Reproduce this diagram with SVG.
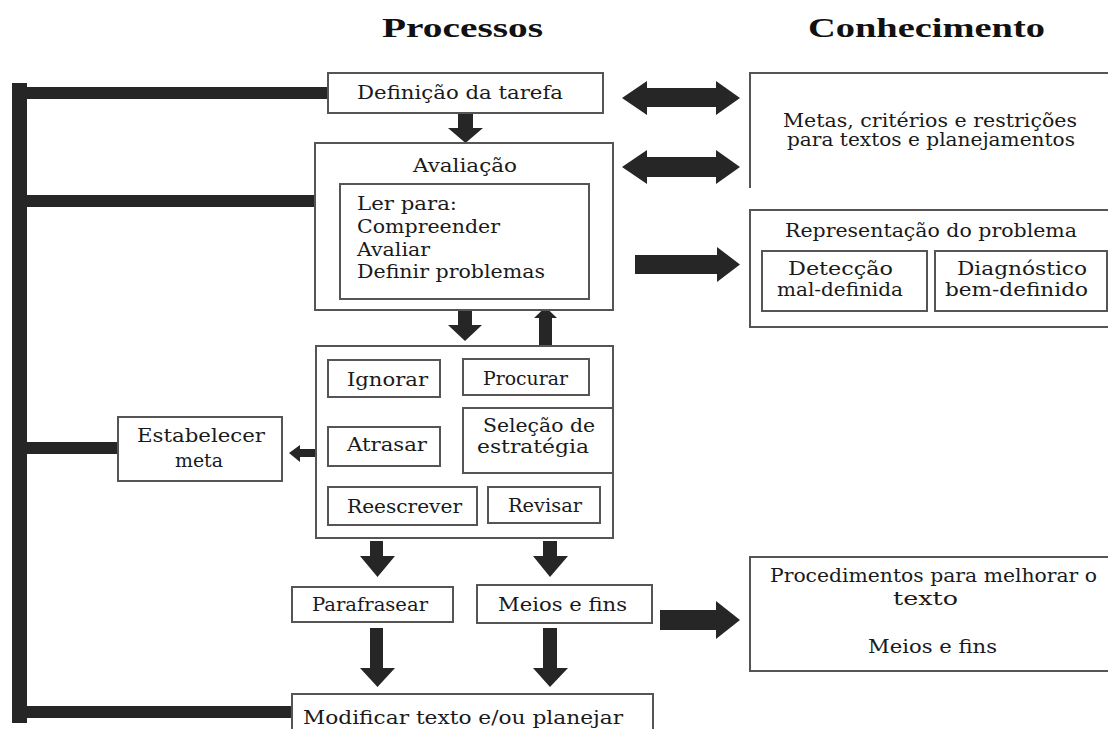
<svg xmlns="http://www.w3.org/2000/svg" width="1108" height="729" viewBox="0 0 1108 729">
<style>
.b{fill:#fff;stroke:#555;stroke-width:2}
.ln{fill:none;stroke:#555;stroke-width:2}
.t{font-family:"DejaVu Serif","Liberation Serif",serif;font-size:18px;fill:#1a1a1a}
.h{font-family:"Liberation Serif","Times New Roman",serif;font-size:28px;font-weight:bold;fill:#111}
.a{fill:#262626}
</style>
<rect width="1108" height="729" fill="#fff"/>
<g id="headings">
<text class="h" x="382" y="37" textLength="161" lengthAdjust="spacingAndGlyphs">Processos</text>
<text class="h" x="808" y="37" textLength="237" lengthAdjust="spacingAndGlyphs">Conhecimento</text>
</g>
<g id="connectors">
<rect class="a" x="12" y="83" width="15" height="640"/>
<rect class="a" x="27" y="87" width="301" height="12"/>
<rect class="a" x="27" y="195" width="288" height="12"/>
<rect class="a" x="27" y="442" width="91" height="12"/>
<rect class="a" x="27" y="706" width="265" height="12"/>
<polygon class="a" points="458,113 473,113 473,128 483,128 465.5,143 448,128 458,128"/>
<polygon class="a" points="458,310 472,310 472,325 482,325 465,341 448,325 458,325"/>
<polygon class="a" points="539,359 552,359 552,318 557,318 545.5,307 534,318 539,318"/>
<polygon class="a" points="370,541 383,541 383,556 395,556 377.5,577 360,556 370,556"/>
<polygon class="a" points="543,541 557,541 557,556 568,556 550,577 533,556 543,556"/>
<polygon class="a" points="370,628 383,628 383,668 395,668 377.5,687 360,668 370,668"/>
<polygon class="a" points="543,628 557,628 557,668 568,668 550,687 533,668 543,668"/>
<polygon class="a" points="328,449 300,449 300,445 289,453 300,462 300,457 328,457"/>
<polygon class="a" points="622,98 647,81 647,88 716,88 716,81 740,98 716,115 716,107 647,107 647,115"/>
<polygon class="a" points="622,167 647,150 647,157 716,157 716,150 740,167 716,184 716,177 647,177 647,184"/>
<polygon class="a" points="635,255 717,255 717,247 740,264.5 717,282 717,274 635,274"/>
<polygon class="a" points="660,610 716,610 716,601 740,620 716,639 716,630 660,630"/>
</g>
<g id="definicao">
<rect class="b" x="328" y="73" width="275" height="40"/>
<text class="t" x="357" y="99" textLength="206" lengthAdjust="spacingAndGlyphs">Definição da tarefa</text>
</g>
<g id="avaliacao">
<rect class="b" x="315" y="143" width="298" height="167"/>
<text class="t" x="413" y="172" textLength="104" lengthAdjust="spacingAndGlyphs">Avaliação</text>
<rect class="b" x="340" y="184" width="249" height="115"/>
<text class="t" x="357" y="210" textLength="100" lengthAdjust="spacingAndGlyphs">Ler para:</text>
<text class="t" x="357" y="233" textLength="143" lengthAdjust="spacingAndGlyphs">Compreender</text>
<text class="t" x="357" y="256" textLength="73" lengthAdjust="spacingAndGlyphs">Avaliar</text>
<text class="t" x="357" y="278" textLength="188" lengthAdjust="spacingAndGlyphs">Definir problemas</text>
</g>
<g id="estrategia">
<rect class="b" x="316" y="346" width="297" height="192"/>
<g id="ignorar"><rect class="b" x="328" y="360" width="112" height="37"/>
<text class="t" x="347" y="386" textLength="81" lengthAdjust="spacingAndGlyphs">Ignorar</text></g>
<g id="procurar"><rect class="b" x="463" y="359" width="126" height="36"/>
<text class="t" x="483" y="385" textLength="85" lengthAdjust="spacingAndGlyphs">Procurar</text></g>
<g id="selecao"><rect class="b" x="463" y="408" width="150" height="65"/>
<text class="t" x="483" y="432" textLength="112" lengthAdjust="spacingAndGlyphs">Seleção de</text>
<text class="t" x="477" y="453" textLength="112" lengthAdjust="spacingAndGlyphs">estratégia</text></g>
<g id="atrasar"><rect class="b" x="328" y="427" width="112" height="39"/>
<text class="t" x="347" y="451" textLength="80" lengthAdjust="spacingAndGlyphs">Atrasar</text></g>
<g id="reescrever"><rect class="b" x="328" y="487" width="149" height="38"/>
<text class="t" x="347" y="513" textLength="115" lengthAdjust="spacingAndGlyphs">Reescrever</text></g>
<g id="revisar"><rect class="b" x="488" y="487" width="112" height="36"/>
<text class="t" x="508" y="512" textLength="74" lengthAdjust="spacingAndGlyphs">Revisar</text></g>
</g>
<g id="estabelecer">
<rect class="b" x="118" y="417" width="164" height="64"/>
<text class="t" x="137" y="442" textLength="128" lengthAdjust="spacingAndGlyphs">Estabelecer</text>
<text class="t" x="175" y="467" textLength="48" lengthAdjust="spacingAndGlyphs">meta</text>
</g>
<g id="parafrasear">
<rect class="b" x="292" y="587" width="161" height="35"/>
<text class="t" x="312" y="611" textLength="116" lengthAdjust="spacingAndGlyphs">Parafrasear</text>
</g>
<g id="meios">
<rect class="b" x="477" y="585" width="175" height="38"/>
<text class="t" x="498" y="611" textLength="129" lengthAdjust="spacingAndGlyphs">Meios e fins</text>
</g>
<g id="modificar">
<rect class="b" x="292" y="694" width="361" height="50"/>
<text class="t" x="303" y="724" textLength="320" lengthAdjust="spacingAndGlyphs">Modificar texto e/ou planejar</text>
</g>
<g id="metas">
<path class="ln" d="M750,188 V73 H1110"/>
<text class="t" x="783" y="127" textLength="294" lengthAdjust="spacingAndGlyphs">Metas, critérios e restrições</text>
<text class="t" x="787" y="146" textLength="288" lengthAdjust="spacingAndGlyphs">para textos e planejamentos</text>
</g>
<g id="representacao">
<rect class="b" x="750" y="210" width="362" height="117"/>
<text class="t" x="785" y="237" textLength="292" lengthAdjust="spacingAndGlyphs">Representação do problema</text>
<rect class="b" x="762" y="251" width="165" height="60"/>
<text class="t" x="788" y="275" textLength="105" lengthAdjust="spacingAndGlyphs">Detecção</text>
<text class="t" x="777" y="296" textLength="126" lengthAdjust="spacingAndGlyphs">mal-definida</text>
<rect class="b" x="935" y="251" width="172" height="60"/>
<text class="t" x="957" y="275" textLength="130" lengthAdjust="spacingAndGlyphs">Diagnóstico</text>
<text class="t" x="945" y="296" textLength="143" lengthAdjust="spacingAndGlyphs">bem-definido</text>
</g>
<g id="procedimentos">
<rect class="b" x="750" y="557" width="362" height="114"/>
<text class="t" x="770" y="582" textLength="327" lengthAdjust="spacingAndGlyphs">Procedimentos para melhorar o</text>
<text class="t" x="893" y="605" textLength="65" lengthAdjust="spacingAndGlyphs">texto</text>
<text class="t" x="868" y="653" textLength="129" lengthAdjust="spacingAndGlyphs">Meios e fins</text>
</g>
</svg>
